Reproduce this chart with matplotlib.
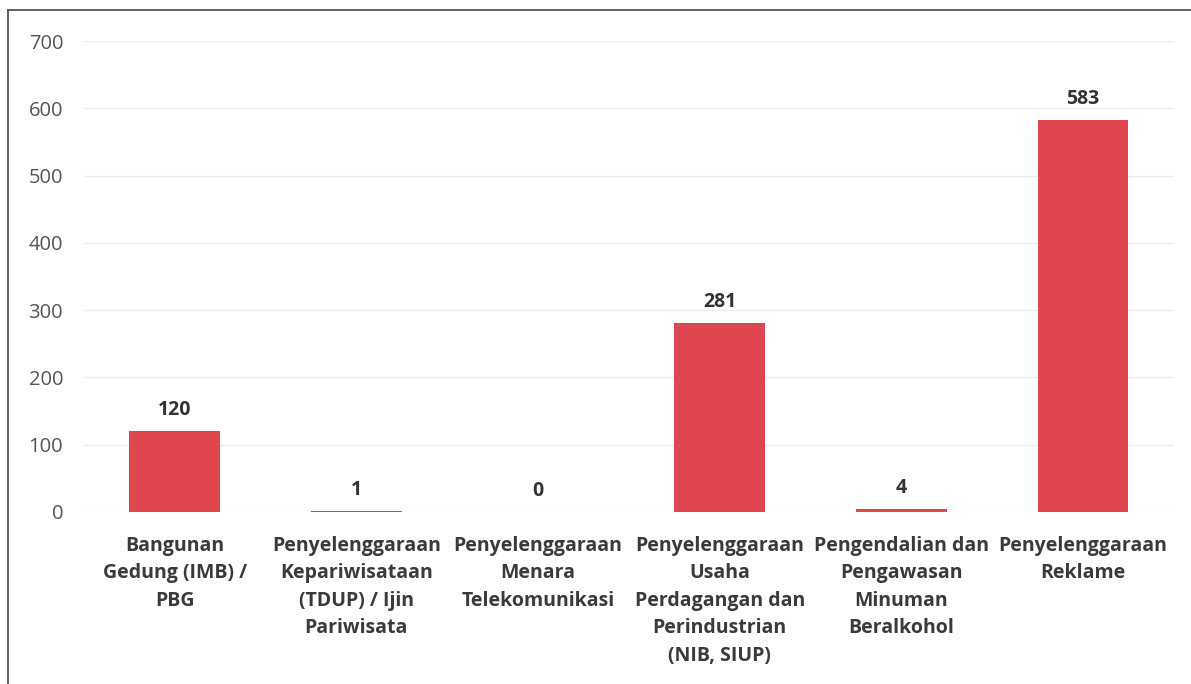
import numpy as np
import matplotlib.pyplot as plt
from matplotlib.lines import Line2D

kategori = [
    "Bangunan\nGedung (IMB) /\nPBG",
    "Penyelenggaraan\nKepariwisataan\n(TDUP) / Ijin\nPariwisata",
    "Penyelenggaraan\nMenara\nTelekomunikasi",
    "Penyelenggaraan\nUsaha\nPerdagangan dan\nPerindustrian\n(NIB, SIUP)",
    "Pengendalian dan\nPengawasan\nMinuman\nBeralkohol",
    "Penyelenggaraan\nReklame",
]
jumlah = [120, 1, 0, 281, 4, 583]
ticks_y = [0, 100, 200, 300, 400, 500, 600, 700]

plt.rcParams['font.family'] = ['Open Sans', 'DejaVu Sans']

fig = plt.figure(figsize=(11.91, 6.84), dpi=100)
ax = fig.add_axes([0.0705, 0.2515, 0.915, 0.6885])

x = np.arange(len(kategori))
batang = ax.bar(x, jumlah, width=0.5, color='#E0464F', edgecolor='#C23A42', linewidth=0, zorder=3)

for xi, v in zip(x, jumlah):
    ax.annotate(str(v), (xi, v), xytext=(0, 8), textcoords='offset points',
                ha='center', va='bottom', fontsize=14, fontweight='bold', color='#333333')

ax.set_xlim(-0.5, len(kategori) - 0.5)
ax.set_ylim(0, 700)
ax.set_yticks(ticks_y)
ax.set_xticks(x)
ax.set_xticklabels(kategori, fontsize=14, fontweight='bold', color='#3A3A3A', linespacing=1.5)
ax.tick_params(axis='y', labelsize=14.5, labelcolor='#555555', length=0, pad=15)
ax.tick_params(axis='x', length=0, pad=17)
ax.grid(axis='y', color='#EBEBEB', linewidth=1, zorder=0)
for s in ax.spines.values():
    s.set_visible(False)

# bingkai hasil scan (atas dan kiri)
fig.add_artist(Line2D([0.007, 1.0], [0.985, 0.985], color='#555555', linewidth=1.3, transform=fig.transFigure))
fig.add_artist(Line2D([0.007, 0.007], [0.0, 0.985], color='#555555', linewidth=1.3, transform=fig.transFigure))

fig.savefig('out.png', dpi=100)
